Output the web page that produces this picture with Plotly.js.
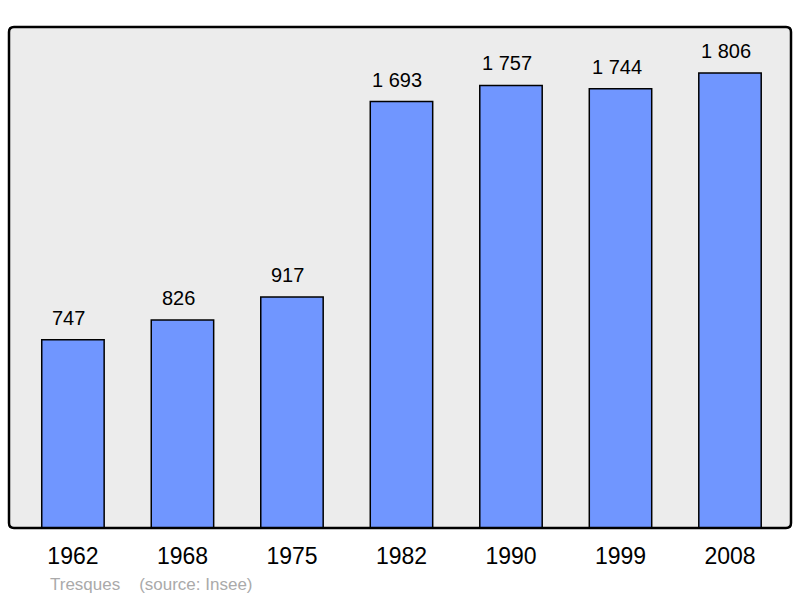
<!DOCTYPE html>
<html>
<head>
<meta charset="utf-8">
<script src="https://cdn.plot.ly/plotly-3.0.1.min.js"></script>
<style>html,body{margin:0;padding:0;background:#fff;}#chart{width:800px;height:598px;}</style>
</head>
<body>
<div id="chart"></div>
<script>
const years = ["1962", "1968", "1975", "1982", "1990", "1999", "2008"];
const population = [747, 826, 917, 1693, 1757, 1744, 1806];
const commune = "Tresques";
const source = "(source: Insee)";

const FONT = "Liberation Sans, Arial, sans-serif";

function fmt(v) {
  return String(v).replace(/\B(?=(\d{3})+(?!\d))/g, " ");
}

const trace = {
  type: "bar",
  x: years,
  y: population,
  width: 0.57,
  marker: {color: "#7096ff", line: {color: "#000", width: 1.5}},
  hoverinfo: "none"
};

const valueLabels = years.map((yr, i) => ({
  x: i, y: population[i], xref: "x", yref: "y",
  text: fmt(population[i]),
  showarrow: false, xanchor: "center", yanchor: "bottom",
  yshift: 9, xshift: -4,
  font: {family: FONT, size: 20, color: "#000"}
}));

// rounded frame in paper coordinates
const rx = 5 / 782, ry = 5 / 501;
const framePath = `M ${rx},0 L ${1 - rx},0 Q 1,0 1,${ry} L 1,${1 - ry} Q 1,1 ${1 - rx},1 ` +
  `L ${rx},1 Q 0,1 0,${1 - ry} L 0,${ry} Q 0,0 ${rx},0 Z`;

const layout = {
  width: 800, height: 598,
  margin: {l: 9, r: 9, t: 27, b: 70},
  paper_bgcolor: "#fff",
  plot_bgcolor: "#ececec",
  showlegend: false,
  xaxis: {
    type: "category",
    range: [-0.584, 6.557],
    showgrid: false, zeroline: false, showline: false,
    ticks: "",
    tickfont: {family: FONT, size: 23, color: "#000"},
    ticklabelstandoff: 12
  },
  yaxis: {
    range: [0, 1989],
    showgrid: false, zeroline: false, showline: false,
    showticklabels: false, ticks: ""
  },
  shapes: [{
    type: "path", xref: "paper", yref: "paper",
    path: framePath,
    line: {color: "#000", width: 2.5}
  }],
  annotations: valueLabels.concat([{
    xref: "paper", yref: "paper",
    x: (48 - 9) / 782, y: -0.112,
    xanchor: "left", yanchor: "middle",
    text: commune + "    " + source,
    showarrow: false,
    font: {family: FONT, size: 17, color: "#aaaaaa"}
  }])
};

Plotly.newPlot("chart", [trace], layout, {displayModeBar: false, staticPlot: true});
</script>
</body>
</html>
